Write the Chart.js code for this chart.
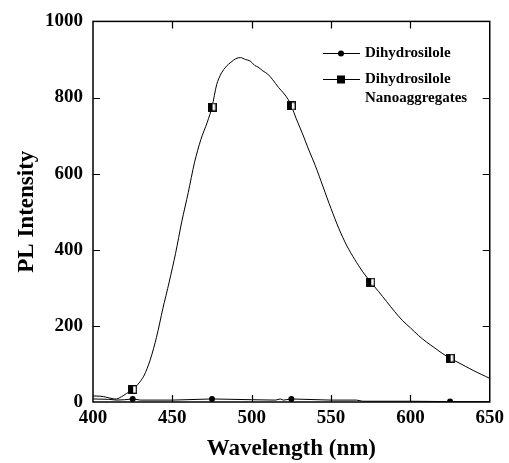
<!DOCTYPE html>
<html>
<head>
  <meta charset="utf-8" />
  <title>PL Intensity</title>
  <script src="https://cdn.jsdelivr.net/npm/chart.js"></script>
  <style>
    html, body {
      margin: 0;
      padding: 0;
      background: #fff;
    }
    .wrap {
      width: 509px;
      height: 463px;
    }
  </style>
</head>
<body>
  <div class="wrap"><canvas id="plChart" width="509" height="463"></canvas></div>

  <script>
    // Nanoaggregates spectrum
    const nanoWavelengths = [400, 405, 408, 412, 415, 418, 421, 425, 428, 432, 436, 440, 444, 448, 452, 456, 460, 464, 468, 472, 475, 478, 481, 484, 487, 490, 493, 496, 499, 502, 504, 507, 510, 513, 517, 520, 523, 525, 528, 532, 536, 540, 545, 550, 555, 560, 565, 570, 575, 580, 585, 590, 595, 600, 605, 610, 615, 620, 625, 630, 635, 640, 645, 650];
    const nanoIntensity = [16, 15, 13, 9, 8, 14, 22, 33, 45, 68, 110, 170, 245, 315, 390, 475, 550, 630, 690, 735, 775, 835, 865, 882, 893, 902, 905, 900, 896, 884, 880, 870, 862, 848, 826, 812, 795, 778, 745, 705, 662, 622, 565, 508, 455, 410, 374, 342, 315, 290, 264, 238, 214, 195, 175, 158, 143, 128, 115, 104, 93, 82, 72, 62];

    // Dihydrosilole (solution) spectrum, almost flat
    const dhsWavelengths = [400, 410, 415, 420, 425, 430, 450, 475, 500, 515, 518, 520, 525, 550, 566, 570, 600, 625, 650];
    const dhsIntensity = [8, 7, 5, 6, 8, 5, 5, 8, 6, 5, 8, 5, 8, 5, 5, 2, 2, 1, 1];

    const markerWavelengths = [425, 475, 525, 575, 625];
    const xTicks = [400, 450, 500, 550, 600, 650];
    const yTicks = [0, 200, 400, 600, 800, 1000];

    const serif = '"Liberation Serif", "DejaVu Serif", serif';

    // half filled square marker
    const squareMark = document.createElement('canvas');
    squareMark.width = 9;
    squareMark.height = 9;
    (function () {
      const c = squareMark.getContext('2d');
      c.fillStyle = '#fff';
      c.fillRect(0, 0, 9, 9);
      c.fillStyle = '#000';
      c.fillRect(1, 1, 4, 7);
      c.strokeStyle = '#000';
      c.lineWidth = 1.3;
      c.strokeRect(0.7, 0.7, 7.6, 7.6);
    })();

    const toPoints = (xs, ys) => xs.map((x, i) => ({ x: x, y: ys[i] }));
    const markerRadius = r => ctx => (ctx.raw && markerWavelengths.includes(ctx.raw.x)) ? r : 0;

    // frame and inward ticks, like the original plot
    const framePlugin = {
      id: 'frame',
      afterDraw(chart) {
        const { ctx, chartArea: a, scales } = chart;
        ctx.save();
        ctx.strokeStyle = '#000';
        ctx.lineWidth = 1.5;
        ctx.strokeRect(a.left, a.top, a.right - a.left, a.bottom - a.top);
        ctx.lineWidth = 1.2;
        ctx.beginPath();
        xTicks.slice(1, -1).forEach(v => {
          const px = Math.round(scales.x.getPixelForValue(v)) + 0.5;
          ctx.moveTo(px, a.bottom); ctx.lineTo(px, a.bottom - 7);
          ctx.moveTo(px, a.top); ctx.lineTo(px, a.top + 7);
        });
        yTicks.slice(1, -1).forEach(v => {
          const py = Math.round(scales.y.getPixelForValue(v)) + 0.5;
          ctx.moveTo(a.left, py); ctx.lineTo(a.left + 7, py);
          ctx.moveTo(a.right, py); ctx.lineTo(a.right - 7, py);
        });
        ctx.stroke();
        ctx.restore();
      }
    };

    // legend drawn by hand because of the two line label
    const legendPlugin = {
      id: 'handLegend',
      afterDraw(chart) {
        const ctx = chart.ctx;
        ctx.save();
        ctx.strokeStyle = '#000';
        ctx.fillStyle = '#000';
        ctx.lineWidth = 1;
        ctx.beginPath();
        ctx.moveTo(323, 53.5); ctx.lineTo(360, 53.5);
        ctx.moveTo(323, 79.5); ctx.lineTo(360, 79.5);
        ctx.stroke();
        ctx.beginPath();
        ctx.arc(341, 53.5, 3, 0, Math.PI * 2);
        ctx.fill();
        ctx.fillRect(337, 75.5, 8, 8);
        ctx.font = 'bold 15px ' + serif;
        ctx.textBaseline = 'middle';
        ctx.fillText('Dihydrosilole', 365, 53);
        ctx.fillText('Dihydrosilole', 365, 79);
        ctx.fillText('Nanoaggregates', 365, 98);
        ctx.restore();
      }
    };

    new Chart(document.getElementById('plChart'), {
      type: 'line',
      data: {
        datasets: [
          {
            label: 'Dihydrosilole',
            data: toPoints(dhsWavelengths, dhsIntensity),
            borderColor: '#000',
            borderWidth: 1,
            backgroundColor: '#000',
            pointStyle: 'circle',
            pointRadius: markerRadius(3),
            pointBorderWidth: 0,
            tension: 0
          },
          {
            label: 'Dihydrosilole Nanoaggregates',
            data: toPoints(nanoWavelengths, nanoIntensity),
            borderColor: '#000',
            borderWidth: 1,
            backgroundColor: '#000',
            pointStyle: squareMark,
            pointRadius: markerRadius(4),
            tension: 0.3
          }
        ]
      },
      options: {
        responsive: false,
        animation: false,
        layout: { padding: { left: 0, right: 15, top: 16, bottom: 0 } },
        plugins: {
          legend: { display: false },
          tooltip: { enabled: false }
        },
        scales: {
          x: {
            type: 'linear',
            min: 400,
            max: 650,
            afterBuildTicks: s => { s.ticks = xTicks.map(v => ({ value: v })); },
            afterFit: s => { s.height = 61; },
            grid: { display: false, drawTicks: false },
            border: { display: false },
            ticks: {
              color: '#000',
              padding: 5,
              maxRotation: 0,
              callback: v => String(v),
              font: { family: serif, size: 19, weight: 'bold' }
            },
            title: {
              display: true,
              text: 'Wavelength (nm)',
              color: '#000',
              padding: { top: 7, bottom: 0 },
              font: { family: serif, size: 23, weight: 'bold' }
            }
          },
          y: {
            min: 0,
            max: 1000,
            afterBuildTicks: s => { s.ticks = yTicks.map(v => ({ value: v })); },
            afterFit: s => { s.width = 93; },
            grid: { display: false, drawTicks: false },
            border: { display: false },
            ticks: {
              color: '#000',
              padding: 10,
              callback: v => String(v),
              font: { family: serif, size: 19, weight: 'bold' }
            },
            title: {
              display: true,
              text: 'PL Intensity',
              color: '#000',
              padding: { top: 13, bottom: 0 },
              font: { family: serif, size: 23, weight: 'bold' }
            }
          }
        }
      },
      plugins: [framePlugin, legendPlugin]
    });
  </script>
</body>
</html>
